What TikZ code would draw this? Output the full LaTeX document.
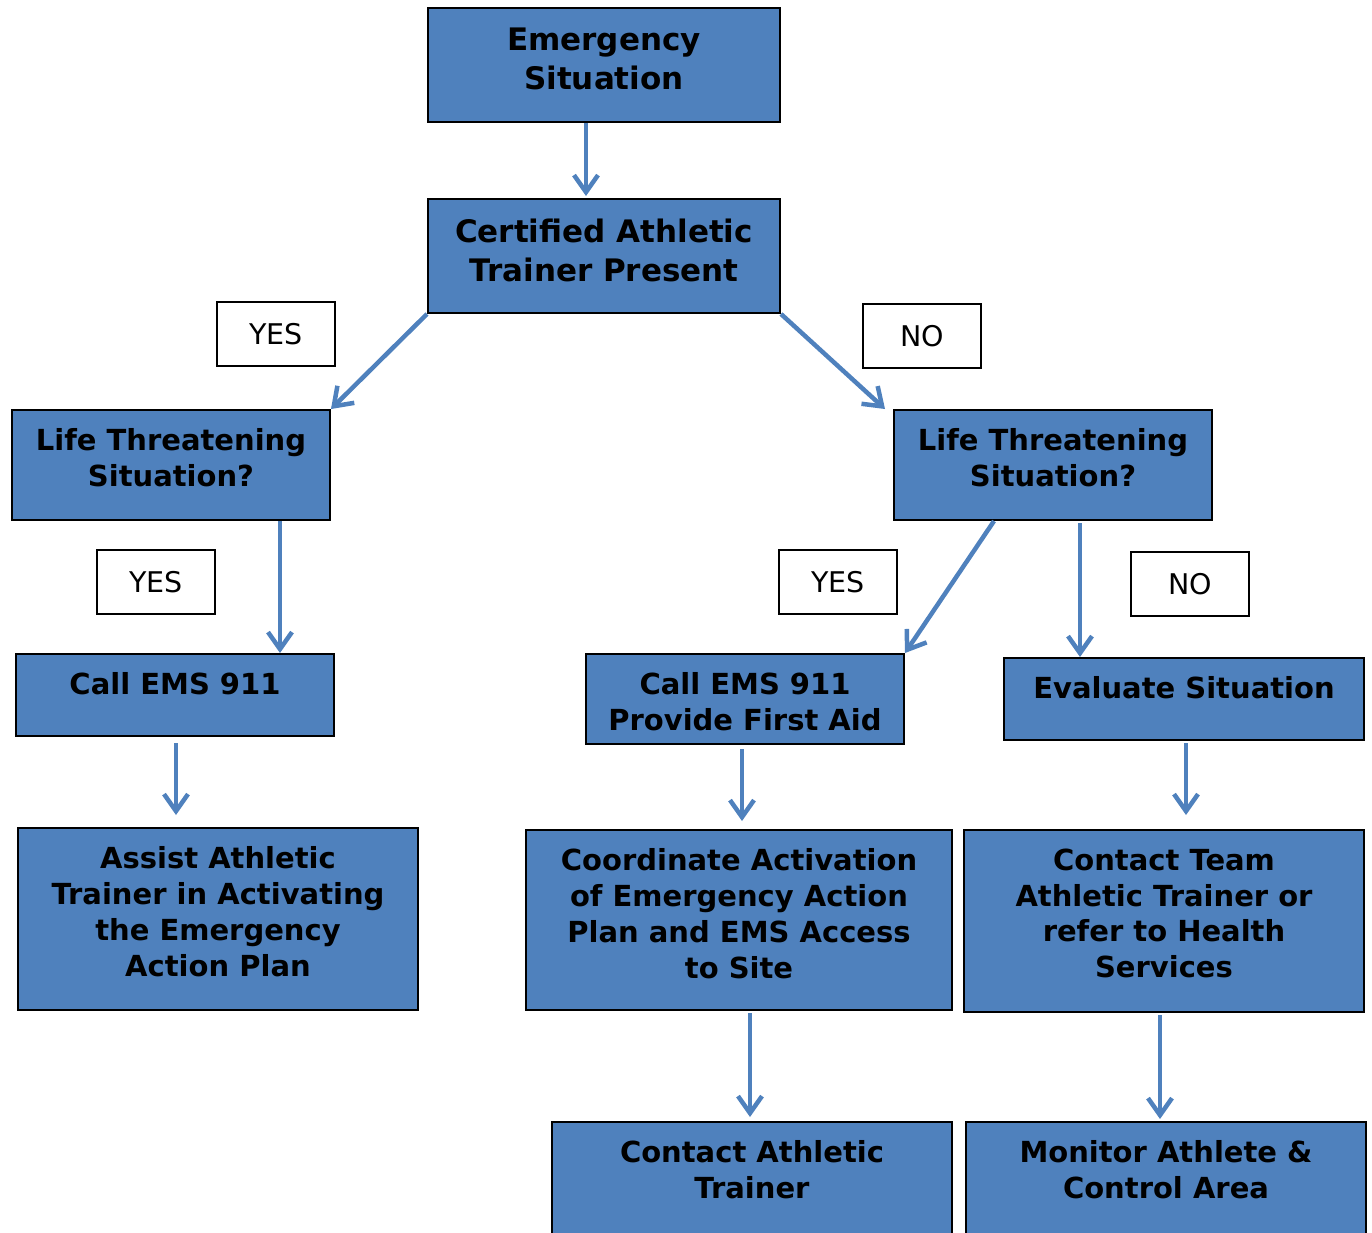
\documentclass[tikz,border=0pt]{standalone}
\usepackage{fontspec}
\setmainfont{DejaVu Sans}
\usepackage{xcolor}
\definecolor{officeblue}{RGB}{79,129,189}
\usetikzlibrary{positioning,arrows.meta}
\tikzset{
  box/.style    ={rectangle,draw=black,line width=2pt,fill=officeblue,
                  anchor=north west,inner sep=0pt},
  bigtxt/.style ={anchor=north,yshift=-21pt,align=center,inner sep=0pt,
                  font=\fontsize{31}{38.5}\selectfont\bfseries},
  txt/.style    ={anchor=north,yshift=-19.5pt,align=center,inner sep=0pt,
                  font=\fontsize{29}{35.8}\selectfont\bfseries},
  answer/.style ={rectangle,draw=black,line width=2pt,fill=white,inner sep=0pt,
                  minimum width=118pt,minimum height=64pt,font=\fontsize{28.5}{34}\selectfont},
  flow/.style   ={-{Straight Barb[length=17pt,width=24pt]},line width=4.5pt,draw=officeblue},
}
\begin{document}
\begin{tikzpicture}[x=1pt,y=-1pt]
  \useasboundingbox (0,0) rectangle (1372,1232);
  % boxes
  \node[box,minimum width=352pt,minimum height=114pt,label={[bigtxt]north:Emergency\\Situation}] (emerg) at (427,7) {};
  \node[box,minimum width=352pt,minimum height=114pt,label={[bigtxt]north:Certified Athletic\\Trainer Present}] (cert) at (427,198) {};
  \node[box,minimum width=318pt,minimum height=110pt,label={[txt]north:Life Threatening\\Situation?}] (lifeL) at (11,409) {};
  \node[box,minimum width=318pt,minimum height=110pt,label={[txt]north:Life Threatening\\Situation?}] (lifeR) at (893,409) {};
  \node[box,minimum width=318pt,minimum height=82pt,label={[txt]north:Call EMS 911}] (callL) at (15,653) {};
  \node[box,minimum width=318pt,minimum height=90pt,label={[txt]north:Call EMS 911\\Provide First Aid}] (callR) at (585,653) {};
  \node[box,minimum width=360pt,minimum height=82pt,label={[txt]north:Evaluate Situation}] (eval) at (1003,657) {};
  \node[box,minimum width=400pt,minimum height=182pt,label={[txt]north:Assist Athletic\\Trainer in Activating\\the Emergency\\Action Plan}] (assist) at (17,827) {};
  \node[box,minimum width=426pt,minimum height=180pt,label={[txt]north:Coordinate Activation\\of Emergency Action\\Plan and EMS Access\\to Site}] (coord) at (525,829) {};
  \node[box,minimum width=400pt,minimum height=182pt,label={[txt]north:Contact Team\\Athletic Trainer or\\refer to Health\\Services}] (team) at (963,829) {};
  \node[box,minimum width=400pt,minimum height=140pt,label={[txt]north:Contact Athletic\\Trainer}] (athl) at (551,1121) {};
  \node[box,minimum width=400pt,minimum height=140pt,label={[txt]north:Monitor Athlete \&\\Control Area}] (monitor) at (965,1121) {};
  % yes / no
  \node[answer] (yes1) at (276,334) {YES};
  \node[answer] (no1) at (922,336) {NO};
  \node[answer] (yes2) at (156,582) {YES};
  \node[answer] (yes3) at (838,582) {YES};
  \node[answer] (no2) at (1190,584) {NO};
  % arrows
  \draw[flow,shorten >=2pt] ([xshift=-18pt]emerg.south) -- ([xshift=-18pt]cert.north);
  \draw[flow] (cert.south west) -- (lifeL.north east);
  \draw[flow] (cert.south east) -- ([xshift=-8pt]lifeR.north west);
  \draw[flow] ([xshift=109pt]lifeL.south) -- ([xshift=109pt]lifeL.south |- callL.north);
  \draw[flow] ([xshift=-59pt]lifeR.south) -- (callR.north east);
  \draw[flow,shorten <=2pt] ([xshift=27pt]lifeR.south) -- ([xshift=27pt]lifeR.south |- eval.north);
  \draw[flow,shorten <=6pt,shorten >=12pt] ([xshift=1pt]callL.south) -- ([xshift=1pt]callL.south |- assist.north);
  \draw[flow,shorten <=4pt,shorten >=8pt] ([xshift=-3pt]callR.south) -- ([xshift=-3pt]callR.south |- coord.north);
  \draw[flow,shorten <=2pt,shorten >=14pt] ([xshift=2pt]eval.south) -- ([xshift=2pt]eval.south |- team.north);
  \draw[flow,shorten <=2pt,shorten >=4pt] ([xshift=11pt]coord.south) -- ([xshift=11pt]coord.south |- athl.north);
  \draw[flow,shorten <=2pt,shorten >=2pt] ([xshift=-4pt]team.south) -- ([xshift=-4pt]team.south |- monitor.north);
\end{tikzpicture}
\end{document}
